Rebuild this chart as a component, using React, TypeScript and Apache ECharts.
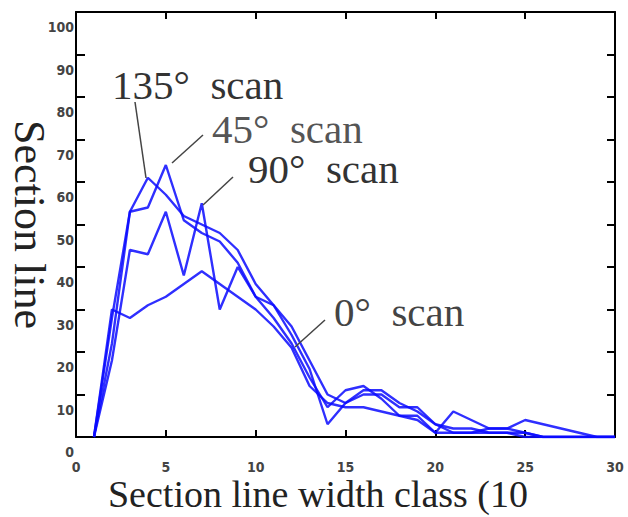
import React, { useEffect, useRef } from "react";
import * as echarts from "echarts";

const classes = [1,2,3,4,5,6,7,8,9,10,11,12,13,14,15,16,17,18,19,20,21,22,23,24,25,26,27,28,29,30];
const scan135 = [0,22,53,61,57,52,50,48,44,36,31,26,18,10,8,11,11,8,6,3,2,2,1,1,1,0,0,0,0,0];
const scan45 = [0,28,53,54,64,51,48,46,41,33,28,22,14,7,11,12,9,5,5,1,6,4,2,2,4,3,2,1,0,0];
const scan90 = [0,18,44,43,53,38,55,30,40,33,31,24,16,3,8,10,10,7,7,3,1,1,2,2,1,0,0,0,0,0];
const scan0 = [0,30,28,31,33,36,39,36,33,30,26,21,12,8,7,7,6,5,4,1,1,1,1,1,0,0,0,0,0,0];

const seriesNames = ["135° scan", "45° scan", "90° scan", "0° scan"];
const seriesValues = [scan135, scan45, scan90, scan0];

const xTitle = "Section line width class (10";
const yTitle = "Section line";

export default function App() {
  const ref = useRef<HTMLDivElement>(null);
  useEffect(() => {
    if (!ref.current) return;
    const chart = echarts.init(ref.current, null, { renderer: "svg" });
    const serif = "'Liberation Serif', 'Times New Roman', serif";
    const tickFont = {
      fontFamily: "'DejaVu Sans Condensed', 'DejaVu Sans', sans-serif",
      fontSize: 14, fontWeight: "bold", color: "#444",
    };
    const annFont = `41px ${serif}`;
    const annot = [
      { text: seriesNames[0], x: 112, y: 85, line: [135, 102, 146, 178], fill: "#333" },
      { text: seriesNames[1], x: 212, y: 129, line: [203, 135, 172, 163], fill: "#555" },
      { text: seriesNames[2], x: 248, y: 169, line: [233, 177, 203, 205], fill: "#333" },
      { text: seriesNames[3], x: 334, y: 312, line: [325, 320, 295, 347], fill: "#444" },
    ];
    const graphics: any[] = [];
    annot.forEach((a) => {
      graphics.push({
        type: "line",
        shape: { x1: a.line[0], y1: a.line[1], x2: a.line[2], y2: a.line[3] },
        style: { stroke: "#444", lineWidth: 1.5 },
        z: 10,
      });
      graphics.push({
        type: "text",
        x: a.x,
        y: a.y,
        style: { text: a.text.replace(" ", "  "), font: annFont, fill: a.fill, verticalAlign: "middle", align: "left" },
        z: 10,
      });
    });
    const frameAxis = {
      axisLine: { show: true, onZero: false, lineStyle: { color: "#000", width: 2 } },
      splitLine: { show: false },
    };
    const option: any = {
      animation: false,
      backgroundColor: "#fff",
      grid: { left: 76, top: 12, right: 13, bottom: 80, containLabel: false, outerBoundsMode: "none" },
      xAxis: [
        {
          type: "value", min: 0, max: 30, interval: 5, position: "bottom", ...frameAxis,
          axisTick: { show: true, inside: true, length: 7, lineStyle: { color: "#000", width: 2 } },
          axisLabel: { ...tickFont, margin: 22, lineHeight: 15 },
          name: xTitle, nameLocation: "middle", nameGap: 41, nameMoveOverlap: false,
          nameTextStyle: { fontFamily: serif, fontSize: 38, lineHeight: 32, color: "#222", padding: [0, 55, 0, 0] },
        },
        {
          type: "value", min: 0, max: 30, interval: 5, position: "top", ...frameAxis,
          axisTick: { show: true, inside: true, length: 7, lineStyle: { color: "#000", width: 2 } },
          axisLabel: { show: false },
        },
      ],
      yAxis: [
        {
          type: "value", min: 0, max: 100, interval: 10, position: "left", ...frameAxis,
          axisTick: { show: true, inside: true, length: 9, lineStyle: { color: "#000", width: 2 } },
          axisLabel: { ...tickFont, margin: 2, verticalAlign: "top", lineHeight: 30 },
          name: yTitle, nameLocation: "middle", nameGap: 25, nameRotate: -90, nameMoveOverlap: false,
          nameTextStyle: { fontFamily: serif, fontSize: 44, color: "#222" },
        },
        {
          type: "value", min: 0, max: 100, interval: 10, position: "right", ...frameAxis,
          axisTick: { show: true, inside: true, length: 8, lineStyle: { color: "#000", width: 2 } },
          axisLabel: { show: false },
        },
      ],
      series: seriesValues.map((vals, i) => ({
        name: seriesNames[i],
        type: "line",
        data: classes.map((c, j) => [c, vals[j]]),
        showSymbol: false,
        symbol: "none",
        lineStyle: { color: "#0a0aff", width: 2.4, opacity: 0.85 },
        itemStyle: { color: "#0a0aff" },
        z: 3,
      })),
      graphic: graphics,
    };
    chart.setOption(option);
    return () => chart.dispose();
  }, []);
  return <div ref={ref} style={{ width: 628, height: 517, position: "absolute", left: 0, top: 0 }} />;
}
